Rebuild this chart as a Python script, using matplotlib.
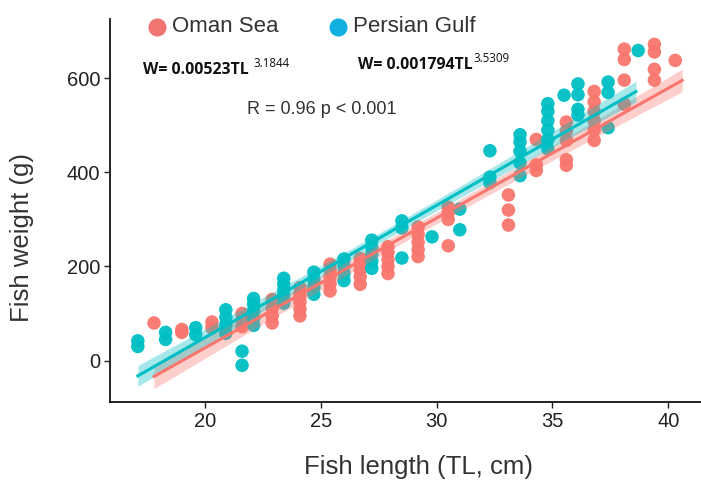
import numpy as np
import matplotlib
matplotlib.use("Agg")
import matplotlib.pyplot as plt
from matplotlib.lines import Line2D

plt.rcParams['font.family'] = ['Liberation Sans', 'DejaVu Sans']

# ---- data ----
oman_x = [17.8,
          19.0, 19.0,
          20.3, 20.3,
          21.6, 21.6, 21.6,
          22.9, 22.9, 22.9, 22.9,
          24.1, 24.1, 24.1, 24.1, 24.1,
          25.4, 25.4, 25.4, 25.4, 25.4,
          26.7, 26.7, 26.7, 26.7, 26.7,
          27.9, 27.9, 27.9, 27.9, 27.9,
          29.2, 29.2, 29.2, 29.2, 29.2,
          30.5, 30.5, 30.5, 30.5,
          33.1, 33.1, 33.1,
          34.3, 34.3, 34.3,
          35.6, 35.6, 35.6, 35.6, 35.6,
          36.8, 36.8, 36.8, 36.8, 36.8, 36.8,
          38.1, 38.1, 38.1, 38.1,
          39.4, 39.4, 39.4, 39.4,
          40.3]
oman_y = [80,
          60, 66,
          70, 82,
          72, 86, 100,
          80, 95, 112, 130,
          95, 110, 125, 140, 155,
          148, 163, 178, 192, 205,
          162, 178, 193, 205, 217,
          185, 200, 215, 230, 242,
          221, 236, 252, 268, 284,
          244, 300, 314, 326,
          288, 320, 352,
          404, 416, 470,
          415, 427, 468, 488, 507,
          468, 490, 510, 530, 550, 572,
          545, 596, 640, 662,
          596, 619, 656, 672,
          638]

gulf_x = [17.1, 17.1,
          18.3, 18.3,
          19.6, 19.6,
          20.9, 20.9, 20.9, 20.9,
          21.6, 21.6,
          22.1, 22.1, 22.1, 22.1, 22.1,
          23.4, 23.4, 23.4, 23.4, 23.4,
          24.7, 24.7, 24.7, 24.7,
          26.0, 26.0, 26.0, 26.0,
          27.2, 27.2, 27.2, 27.2, 27.2,
          28.5, 28.5, 28.5,
          29.8,
          31.0, 31.0,
          32.3, 32.3, 32.3,
          33.6, 33.6, 33.6, 33.6, 33.6,
          34.8, 34.8, 34.8, 34.8, 34.8, 34.8,
          35.5,
          36.1, 36.1, 36.1, 36.1,
          37.4, 37.4, 37.4,
          38.7]
gulf_y = [30, 42,
          45, 60,
          55, 70,
          58, 75, 92, 108,
          -10, 20,
          75, 90, 105, 120, 132,
          122, 137, 150, 163, 175,
          141, 156, 172, 188,
          170, 185, 200, 216,
          196, 211, 226, 241, 256,
          218, 282, 297,
          263,
          278, 322,
          378, 390, 446,
          393, 420, 445, 465, 480,
          450, 470, 490, 510, 530, 546,
          564,
          522, 534, 565, 588,
          495, 570, 592,
          659]

# fitted lines: [Oman Sea, Persian Gulf]
fit_slope = [27.6, 28.1]
fit_intercept = [-525.0, -513.0]
fit_xrange = [(17.8, 40.6), (17.1, 38.6)]

series_names = ["Oman Sea", "Persian Gulf"]
series_colors = ["#F8766D", "#00BFC4"]
legend_colors = ["#F07470", "#12B0E2"]
x_ticks = [20, 25, 30, 35, 40]
y_ticks = [0, 200, 400, 600]

# ---- figure ----
W, H = 701, 484
fig = plt.figure(figsize=(W/100, H/100), dpi=100)
ax = fig.add_axes([110/W, 1 - 402/H, (710-110)/W, (402-19)/H])

def band(x, y, slope, intercept, xr):
    x = np.asarray(x, float); y = np.asarray(y, float)
    n = len(x)
    xs = np.linspace(xr[0], xr[1], 100)
    ys = intercept + slope * xs
    resid = y - (intercept + slope * x)
    s = np.sqrt(np.sum(resid**2) / (n - 2))
    sxx = np.sum((x - x.mean())**2)
    se = s * np.sqrt(1/n + (xs - x.mean())**2 / sxx)
    return xs, ys, se

groups = [(oman_x, oman_y), (gulf_x, gulf_y)]
for (gx, gy), col in zip(groups, series_colors):
    ax.scatter(gx, gy, s=95, color=col, alpha=0.95, edgecolors='none', zorder=2)

for i, ((gx, gy), col) in enumerate(zip(groups, series_colors)):
    xf, yf, se = band(gx, gy, fit_slope[i], fit_intercept[i], fit_xrange[i])
    ax.fill_between(xf, yf - 1.99*se, yf + 1.99*se, color=col, alpha=0.35, lw=0, zorder=3)
    ax.plot(xf, yf, color=col, lw=2.2, zorder=4)

ax.set_xlim(15.9, 41.8)
ax.set_ylim(-88, 726)
ax.set_xticks(x_ticks)
ax.set_yticks(y_ticks)
ax.tick_params(labelsize=14.5, length=4, width=1, colors='#222222', labelcolor='#222222', pad=3)
for sp in ['top', 'right']:
    ax.spines[sp].set_visible(False)
for sp in ['left', 'bottom']:
    ax.spines[sp].set_linewidth(1.3)
    ax.spines[sp].set_color('#111111')

ax.set_xlabel("Fish length (TL, cm)", fontsize=18.5, color='#333333')
ax.set_ylabel("Fish weight (g)", fontsize=18.5, color='#333333')
ax.xaxis.set_label_coords((418-110)/600, -(467-402)/383)
ax.yaxis.set_label_coords((22-110)/600, (402-238)/383)
ax.xaxis.label.set_va('center')
ax.yaxis.label.set_va('center')

# legend (manual, at top)
def fx(px): return px / W
def fy(py): return 1 - py / H
for cx, col, name in [(157, legend_colors[0], series_names[0]), (338, legend_colors[1], series_names[1])]:
    fig.add_artist(Line2D([fx(cx)], [fy(27)], transform=fig.transFigure, marker='o',
                          markersize=12, color=col, linestyle='none'))
    fig.text(fx(cx + 15), fy(27), name, fontsize=16, color='#333333', ha='left', va='center')

# equations
eq_font = dict(color='#111111', ha='left', va='center', family=['Open Sans', 'DejaVu Sans'])
fig.text(fx(143), fy(70), "W= 0.00523TL", fontsize=11.4, weight='bold', **eq_font)
fig.text(fx(253), fy(63), "3.1844", fontsize=8.3, **eq_font)
fig.text(fx(358), fy(65), "W= 0.001794TL", fontsize=11.4, weight='bold', **eq_font)
fig.text(fx(473), fy(59), "3.5309", fontsize=8.3, **eq_font)
fig.text(fx(247), fy(110), "R = 0.96 p < 0.001", fontsize=13, color='#333333', ha='left', va='center')

fig.savefig("out.png", dpi=100)
